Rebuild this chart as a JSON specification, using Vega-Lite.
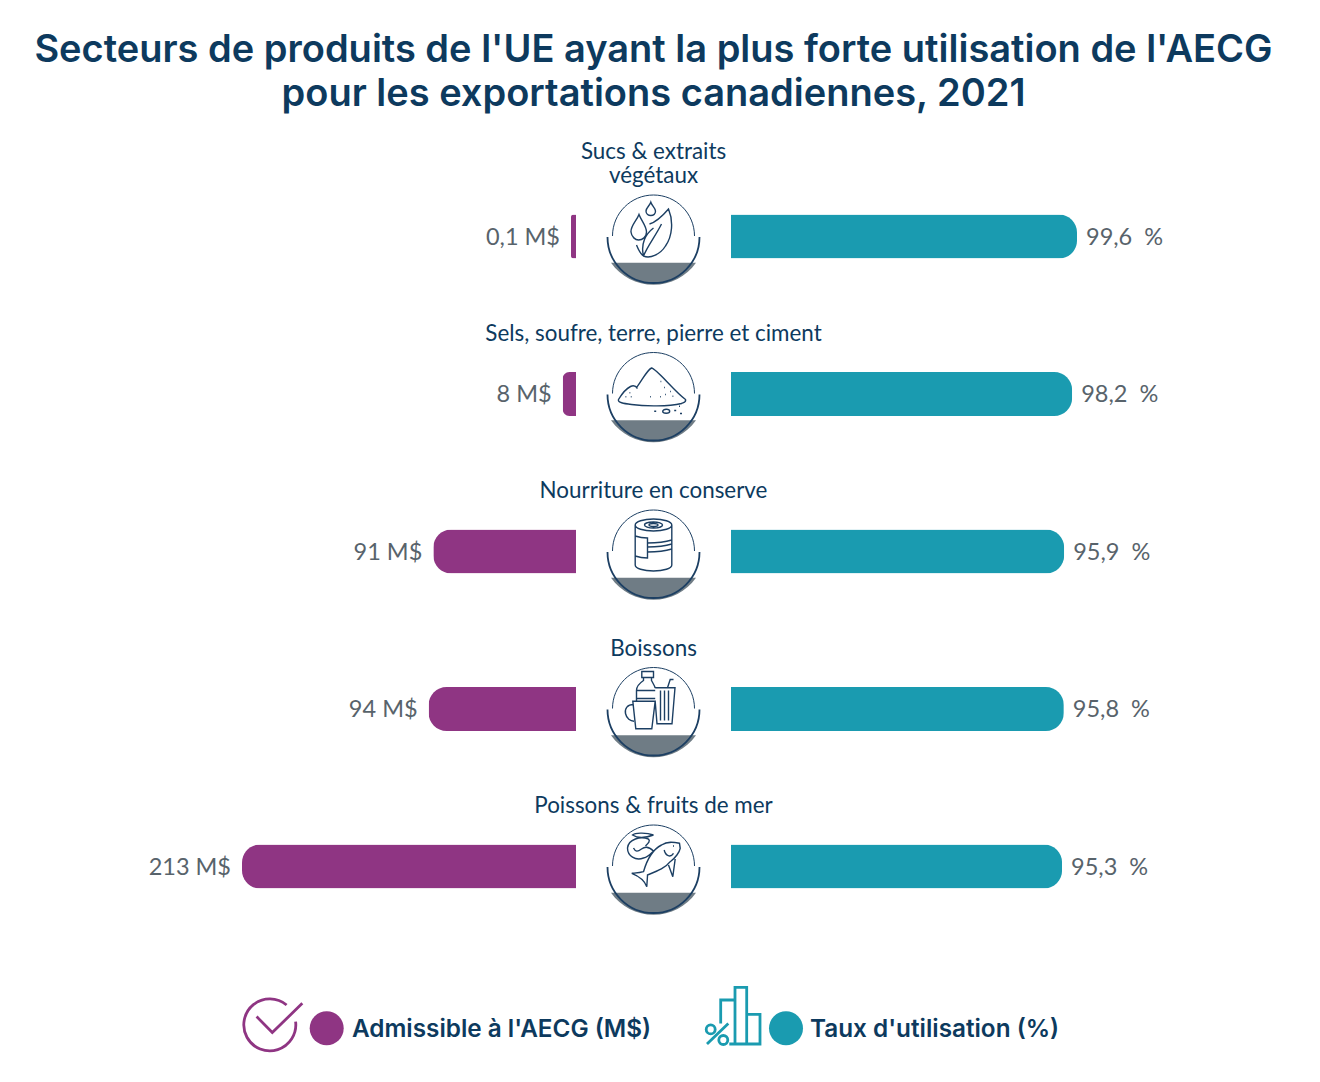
{
"$schema":"https://vega.github.io/schema/vega-lite/v6.json",
"width":1307,"height":1082,"padding":0,"autosize":{"type":"none"},"background":"white",
"title":{"text":["Secteurs de produits de l'UE ayant la plus forte utilisation de l'AECG","pour les exportations canadiennes, 2021"],"font":"Inter","fontSize":38,"fontWeight":600,"color":"#0d3a5e","anchor":"middle","frame":"group","lineHeight":44,"baseline":"alphabetic","offset":-143.5},
"config":{"view":{"stroke":null},"axis":{"disable":true}},
"datasets":{
"secteurs":[
{"secteur":"Sucs & extraits végétaux","etiquette_haut":"Sucs & extraits","etiquette":"végétaux","admissible":0.1,"longueur_barre":3.2,"utilisation":99.6,"texte_admissible":"0,1 M$","texte_utilisation":"99,6\u00a0\u00a0%"},
{"secteur":"Sels, soufre, terre, pierre et ciment","etiquette_haut":"","etiquette":"Sels, soufre, terre, pierre et ciment","admissible":8,"longueur_barre":8.5,"utilisation":98.2,"texte_admissible":"8 M$","texte_utilisation":"98,2\u00a0\u00a0%"},
{"secteur":"Nourriture en conserve","etiquette_haut":"","etiquette":"Nourriture en conserve","admissible":91,"longueur_barre":91,"utilisation":95.9,"texte_admissible":"91 M$","texte_utilisation":"95,9\u00a0\u00a0%"},
{"secteur":"Boissons","etiquette_haut":"","etiquette":"Boissons","admissible":94,"longueur_barre":94,"utilisation":95.8,"texte_admissible":"94 M$","texte_utilisation":"95,8\u00a0\u00a0%"},
{"secteur":"Poissons & fruits de mer","etiquette_haut":"","etiquette":"Poissons & fruits de mer","admissible":213,"longueur_barre":213,"utilisation":95.3,"texte_admissible":"213 M$","texte_utilisation":"95,3\u00a0\u00a0%"}
],
"legende":[
{"serie":"Admissible à l'AECG (M$)"},
{"serie":"Taux d'utilisation (%)"}
]},
"resolve":{"scale":{"x":"independent","y":"independent","shape":"independent","color":"independent"}},
"layer":[
{"data":{"name":"secteurs"},
"mark":{"type":"bar","size":44,"color":"#8f3583","cornerRadiusTopLeft":18,"cornerRadiusBottomLeft":18},
"encoding":{"x":{"field":"longueur_barre","type":"quantitative","scale":{"domain":[0,213],"range":[576,242]},"axis":null},
"y":{"field":"secteur","type":"nominal","sort":null,"axis":null,"scale":{"type":"point","padding":0,"range":[236.5,866.5]}}}},
{"data":{"name":"secteurs"},
"mark":{"type":"bar","size":44,"color":"#1a9bb0","cornerRadiusTopRight":18,"cornerRadiusBottomRight":18},
"encoding":{"x":{"field":"utilisation","type":"quantitative","scale":{"domain":[0,100],"range":[731,1078.4]},"axis":null},
"y":{"field":"secteur","type":"nominal","sort":null,"axis":null,"scale":{"type":"point","padding":0,"range":[236.5,866.5]}}}},
{"data":{"name":"secteurs"},
"mark":{"type":"text","align":"right","baseline":"middle","dx":-11,"dy":1.5,"font":"Lato","fontSize":23.5,"color":"#58636b"},
"encoding":{"x":{"field":"longueur_barre","type":"quantitative","scale":{"domain":[0,213],"range":[576,242]},"axis":null},
"y":{"field":"secteur","type":"nominal","sort":null,"axis":null,"scale":{"type":"point","padding":0,"range":[236,866]}},
"text":{"field":"texte_admissible"}}},
{"data":{"name":"secteurs"},
"mark":{"type":"text","align":"left","baseline":"middle","dx":9,"dy":1.5,"font":"Lato","fontSize":23.5,"color":"#58636b"},
"encoding":{"x":{"field":"utilisation","type":"quantitative","scale":{"domain":[0,100],"range":[731,1078.4]},"axis":null},
"y":{"field":"secteur","type":"nominal","sort":null,"axis":null,"scale":{"type":"point","padding":0,"range":[236,866]}},
"text":{"field":"texte_utilisation"}}},
{"data":{"name":"secteurs"},
"mark":{"type":"text","align":"center","baseline":"bottom","dy":-48,"font":"Lato","fontSize":22.4,"color":"#0d3a5e"},
"encoding":{"y":{"field":"secteur","type":"nominal","sort":null,"axis":null,"scale":{"type":"point","padding":0,"range":[236,866]}},
"text":{"field":"etiquette"}}},
{"data":{"name":"secteurs"},
"mark":{"type":"text","align":"center","baseline":"bottom","dy":-72,"font":"Lato","fontSize":22.4,"color":"#0d3a5e"},
"encoding":{"y":{"field":"secteur","type":"nominal","sort":null,"axis":null,"scale":{"type":"point","padding":0,"range":[236,866]}},
"text":{"field":"etiquette_haut"}}},
{"data":{"name":"secteurs"},
"mark":{"type":"point","filled":true,"size":4,"opacity":1,"color":"#6f7c85","strokeWidth":0,"shape":"M-42.5,26.7 A52,52 0 0 0 42.5,26.7 Z"},
"encoding":{"y":{"field":"secteur","type":"nominal","sort":null,"axis":null,"scale":{"type":"point","padding":0,"range":[236,866]}}}},
{"data":{"name":"secteurs"},
"mark":{"type":"point","filled":false,"size":4,"opacity":1,"color":"#1c3f63","strokeWidth":1,"shape":"M-41,0 A41,41 0 0 1 41,0"},
"encoding":{"y":{"field":"secteur","type":"nominal","sort":null,"axis":null,"scale":{"type":"point","padding":0,"range":[236,866]}}}},
{"data":{"name":"secteurs"},
"mark":{"type":"point","filled":false,"size":4,"opacity":1,"color":"#1c3f63","strokeWidth":1.8,"shape":"M-46,1 A46,46 0 0 0 46,1"},
"encoding":{"y":{"field":"secteur","type":"nominal","sort":null,"axis":null,"scale":{"type":"point","padding":0,"range":[236,866]}}}},
{"data":{"name":"secteurs"},
"mark":{"type":"point","filled":false,"size":4,"opacity":1,"color":"#1c3f63","strokeWidth":1.4},
"encoding":{"y":{"field":"secteur","type":"nominal","sort":null,"axis":null,"scale":{"type":"point","padding":0,"range":[236,866]}},
"shape":{"field":"secteur","type":"nominal","sort":null,"legend":null,"scale":{"domain":["Sucs & extraits végétaux","Sels, soufre, terre, pierre et ciment","Nourriture en conserve","Boissons","Poissons & fruits de mer"],"range":[
"M-14.5,-21.5 C-17,-15 -23,-10 -22.5,-4 C-22,1 -18,4 -15,4 C-11,4 -7,1 -7,-4 C-7,-10 -12,-15 -14.5,-21.5 Z M-2.7,-33.7 C-4,-30 -7.5,-28 -7.5,-25 C-7.5,-22 -5,-20.5 -2.7,-20.5 C0,-20.5 2,-22 2,-25 C2,-28 -1.5,-30 -2.7,-33.7 Z M-4,-12 C3,-14 9,-20 15,-27 C20,-15 19,0 12,10 C7,18 -3,23 -10,20 C-13,8 -8,-2 0,-8 M-17,9 C-15,14 -13,18 -10,20 C-6,10 2,0 8,-12",
"M-17,-6 C-12,-12 -7,-23 -2,-25.5 C3,-25 20,-3 32,6 C33,9 30,9 28,10 C15,13 -8,13 -22,11 C-30,10 -36,9 -35,6 C-32,1 -27,-5 -23,-7 C-21,-8 -18,-8 -16,-5 M9.2,17.7 A3.5,2 0 1 1 16.2,17.7 A3.5,2 0 1 1 9.2,17.7 Z M0.7,17.7 h2 M20.7,17 h2 M26.5,20 h2 M25.5,12.7 h1 M7,-12 h0.8 M10.5,-6 h0.8 M16.5,-2 h0.8 M11.5,1 h0.8 M6.5,3.3 h0.8 M-3.5,3.3 h0.8 M19,2.7 h0.8 M-24,-0.7 h0.8 M-22.7,3.3 h0.8 M-28,3.3 h0.8",
"M-18.3,-26 A18.3,6 0 1 1 18.3,-26 A18.3,6 0 1 1 -18.3,-26 Z M-9,-26 A9,3 0 1 1 9,-26 A9,3 0 1 1 -9,-26 Z M-4.5,-26 A4.5,1.5 0 1 1 4.5,-26 A4.5,1.5 0 1 1 -4.5,-26 Z M-18.3,-26 V14 A18.3,6 0 0 0 18.3,14 V-26 M-18.3,-15 C-14,-13.5 -10,-13 -6,-13 V7 C-10,7 -14,6.5 -18.3,5 M-6,-8 C2,-8 12,-9 18.3,-11 M-6,-4 C2,-4 12,-5 18.3,-7 M-6,1 C2,1 12,0 18.3,-2",
"M-11.7,-31 V-37 H0 V-31 Z M-10,-31 V-28 C-13,-26 -17,-23 -17,-18 V-7.5 M-2,-31 V-28 C-1,-26 1,-23 1.7,-20.5 M-17,-18 H1.7 M-17,-10 H1.7 M1.7,-20.7 H21.5 L18.5,15.3 H3.5 L1.7,-7 M7,-18 V12 M11,-18 V12 M15,-18 V12 M14,-20.7 L16.7,-29 H20 M-20.7,-7.3 H1.7 L-1.7,20.3 H-17.7 Z M-20,-4 C-26,-4 -29,0 -28,5 C-27,10 -23,12.7 -19.5,12.7",
"M26,-22.7 C20,-24 14,-25 8,-21 C0,-17 -6,-8 -10,5.7 C-14,7 -18,7 -21.7,7.3 C-15,10 -9,14 -6.7,20.7 C-6.5,16 -6,12 -6,9 C4,5 12,2 16.7,-4.3 C22,-8 26,-14 26.7,-17.7 Z M15,-1 L19.3,10.7 L21.7,-7 M10.7,-16 C12,-10 17,-8 20,-12.7 M19.5,-20 h1 M0,-31 C-6,-33 -18,-34 -21,-31 C-15,-27 -8,-28 0,-31 M-5,-27 C-13,-30 -25,-27 -26,-18 C-26,-10 -18,-5 -10,-8 C-5,-9 -3,-12 0,-15 C-4,-19 -8,-20 -12,-17 C-16,-14 -18,-14 -20,-18 M-8,-20 C-5,-23 -3,-25 -5,-27"
]}}}},
{"data":{"name":"legende"},
"mark":{"type":"point","filled":false,"size":4,"opacity":1,"strokeWidth":2.8},
"encoding":{"x":{"field":"serie","type":"nominal","sort":null,"axis":null,"scale":{"type":"point","padding":0,"range":[269.3,730]}},
"y":{"field":"serie","type":"nominal","sort":null,"axis":null,"scale":{"type":"point","padding":0,"range":[1023.3,1016.7]}},
"color":{"field":"serie","type":"nominal","sort":null,"legend":null,"scale":{"domain":["Admissible à l'AECG (M$)","Taux d'utilisation (%)"],"range":["#8f3583","#1a9bb0"]}},
"shape":{"field":"serie","type":"nominal","sort":null,"legend":null,"scale":{"domain":["Admissible à l'AECG (M$)","Taux d'utilisation (%)"],"range":[
"M17.3,-18.3 A26,26 0 1 0 26.3,-1.7 M-12.7,-6.7 L3,9.3 L33,-20",
"M-9.3,6.7 V-16.7 H4 M5,27.3 V-29.3 H16.7 V27.3 Z M16.7,-2.3 H30 V27.3 H-0.7 M-14.8,12.7 A4.5,4.5 0 1 1 -23.8,12.7 A4.5,4.5 0 1 1 -14.8,12.7 Z M-2.2,23.3 A4.5,4.5 0 1 1 -11.2,23.3 A4.5,4.5 0 1 1 -2.2,23.3 Z M-23,27.3 L-1.7,6.7"
]}}}},
{"data":{"name":"legende"},
"mark":{"type":"point","filled":true,"size":1156,"opacity":1,"shape":"circle"},
"encoding":{"x":{"field":"serie","type":"nominal","sort":null,"axis":null,"scale":{"type":"point","padding":0,"range":[326.7,786]}},
"y":{"field":"serie","type":"nominal","sort":null,"axis":null,"scale":{"type":"point","padding":0,"range":[1028.3,1028.3]}},
"color":{"field":"serie","type":"nominal","sort":null,"legend":null,"scale":{"domain":["Admissible à l'AECG (M$)","Taux d'utilisation (%)"],"range":["#8f3583","#1a9bb0"]}}}},
{"data":{"name":"legende"},
"mark":{"type":"text","align":"left","baseline":"middle","dy":2,"font":"Inter","fontSize":24.3,"fontWeight":600,"color":"#0d3a5e"},
"encoding":{"x":{"field":"serie","type":"nominal","sort":null,"axis":null,"scale":{"type":"point","padding":0,"range":[352,810]}},
"y":{"field":"serie","type":"nominal","sort":null,"axis":null,"scale":{"type":"point","padding":0,"range":[1028.3,1028.3]}},
"text":{"field":"serie"}}}
]
}
